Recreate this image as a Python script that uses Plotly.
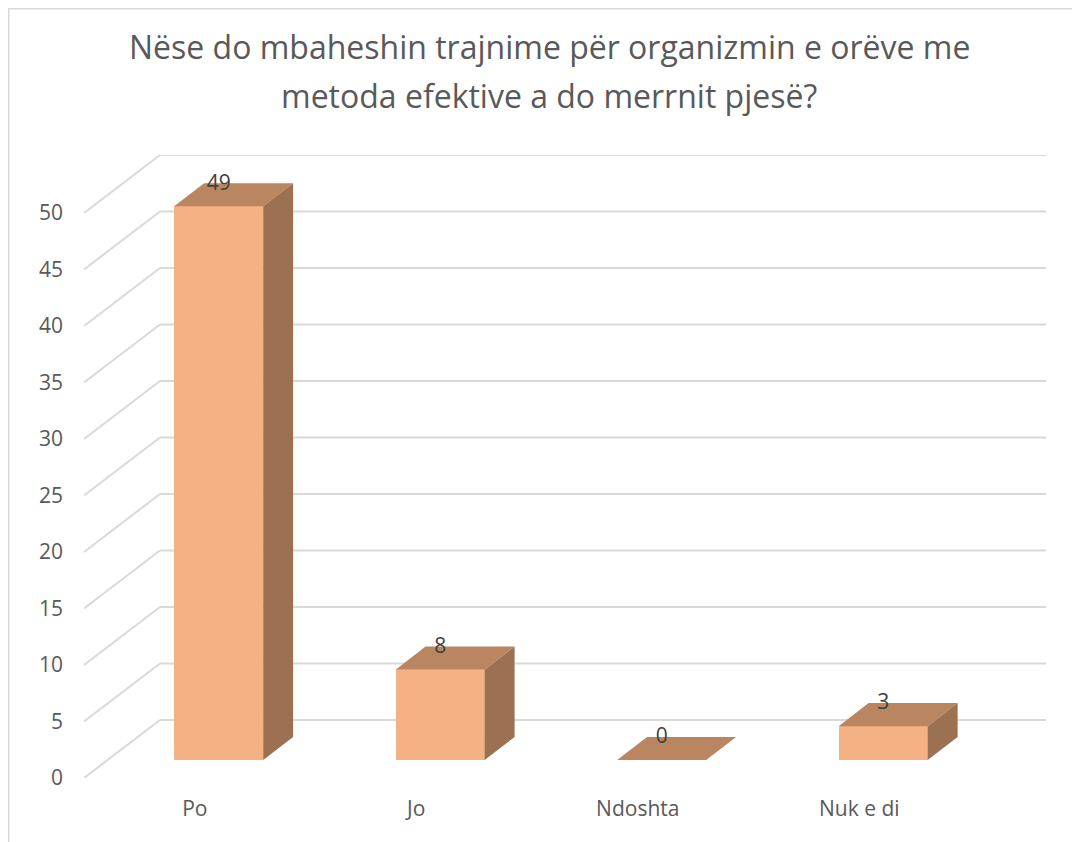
import plotly.graph_objects as go

# ---- data ----
categories = ["Po", "Jo", "Ndoshta", "Nuk e di"]
values = [49, 8, 0, 3]
y_ticks = [0, 5, 10, 15, 20, 25, 30, 35, 40, 45, 50]
title_lines = ["Nëse do mbaheshin trajnime për organizmin e orëve me",
               "metoda efektive a do merrnit pjesë?"]

# ---- layout geometry (pixels, figure coordinates; page adds 8px body margin) ----
W, H = 1072, 834
ML, MR, MT, MB = 76, 34, 147, 64
PW, PH = W - ML - MR, H - MT - MB

n = len(categories)
# depth offsets in data units (oblique projection)
wall_dx, wall_dy = 0.343, 5.13      # back wall
bar_dx0, bar_dy0 = 0.108, 1.59      # bar front face
bar_ddx, bar_ddy = 0.135, 2.04      # bar depth
half_w = 0.201
xmax = n + wall_dx
ymax = y_ticks[-1] + wall_dy

c_front = "#F4B183"
c_top = "#BA8561"
c_side = "#9C7151"
grid_c = "#D9D9D9"


def px_to_paper_x(px):
    return (px - ML) / PW


def px_to_paper_y(py):
    return (H - MB - py) / PH


fig = go.Figure()

centers = [i + 0.5 for i in range(n)]
fx = [c + bar_dx0 for c in centers]

# front faces
fig.add_trace(go.Bar(
    x=fx, y=values, base=[bar_dy0] * n, width=[2 * half_w] * n,
    marker=dict(color=c_front, line=dict(width=0)),
    hoverinfo="skip", showlegend=False,
))

# top and side faces
for xc, v in zip(fx, values):
    x0, x1 = xc - half_w, xc + half_w
    yb, yt = bar_dy0, bar_dy0 + v
    fig.add_trace(go.Scatter(
        x=[x0, x1, x1 + bar_ddx, x0 + bar_ddx, x0],
        y=[yt, yt, yt + bar_ddy, yt + bar_ddy, yt],
        fill="toself", fillcolor=c_top, mode="lines",
        line=dict(width=0, color=c_top), hoverinfo="skip", showlegend=False,
    ))
    if v > 0:
        fig.add_trace(go.Scatter(
            x=[x1, x1 + bar_ddx, x1 + bar_ddx, x1, x1],
            y=[yb, yb + bar_ddy, yt + bar_ddy, yt, yb],
            fill="toself", fillcolor=c_side, mode="lines",
            line=dict(width=0, color=c_side), hoverinfo="skip", showlegend=False,
        ))

# data labels
fig.add_trace(go.Scatter(
    x=fx, y=[v + bar_dy0 + bar_ddy - 0.1 for v in values],
    mode="text", text=[str(v) for v in values], textposition="middle center",
    textfont=dict(family="Open Sans", size=21, color="#404040"),
    hoverinfo="skip", showlegend=False,
))

# back-wall gridlines (below traces)
shapes = []
for t in y_ticks:
    shapes.append(dict(type="line", xref="x", yref="y", x0=0, y0=t,
                       x1=wall_dx, y1=t + wall_dy, layer="below",
                       line=dict(color=grid_c, width=2)))
    shapes.append(dict(type="line", xref="x", yref="y", x0=wall_dx, y0=t + wall_dy,
                       x1=xmax, y1=t + wall_dy, layer="below",
                       line=dict(color=grid_c, width=2)))
# chart frame
shapes.append(dict(type="rect", xref="paper", yref="paper",
                   x0=px_to_paper_x(0.75), y0=px_to_paper_y(H + 20),
                   x1=px_to_paper_x(W + 20), y1=px_to_paper_y(0.75),
                   layer="below", line=dict(color=grid_c, width=1.5)))

annotations = [
    dict(text=title_lines[0], xref="paper", yref="paper",
         x=px_to_paper_x(541), y=px_to_paper_y(38), xanchor="center", yanchor="middle",
         showarrow=False, font=dict(family="Open Sans", size=32, color="#595959")),
    dict(text=title_lines[1], xref="paper", yref="paper",
         x=px_to_paper_x(541), y=px_to_paper_y(88), xanchor="center", yanchor="middle",
         showarrow=False, font=dict(family="Open Sans", size=32, color="#595959")),
]

fig.update_layout(
    width=W, height=H,
    margin=dict(l=ML, r=MR, t=MT, b=MB, pad=0),
    paper_bgcolor="white", plot_bgcolor="white",
    shapes=shapes, annotations=annotations,
    bargap=0, showlegend=False,
    xaxis=dict(range=[0, xmax], tickvals=centers, ticktext=categories,
               showgrid=False, zeroline=False, showline=False, ticks="",
               ticklabelstandoff=16,
               tickfont=dict(family="Open Sans", size=21, color="#595959")),
    yaxis=dict(range=[0, ymax], tickvals=y_ticks, showgrid=False, zeroline=False,
               showline=False, ticks="", ticklabelstandoff=20,
               tickfont=dict(family="Open Sans", size=21, color="#595959")),
)

fig.write_html("out.html")
